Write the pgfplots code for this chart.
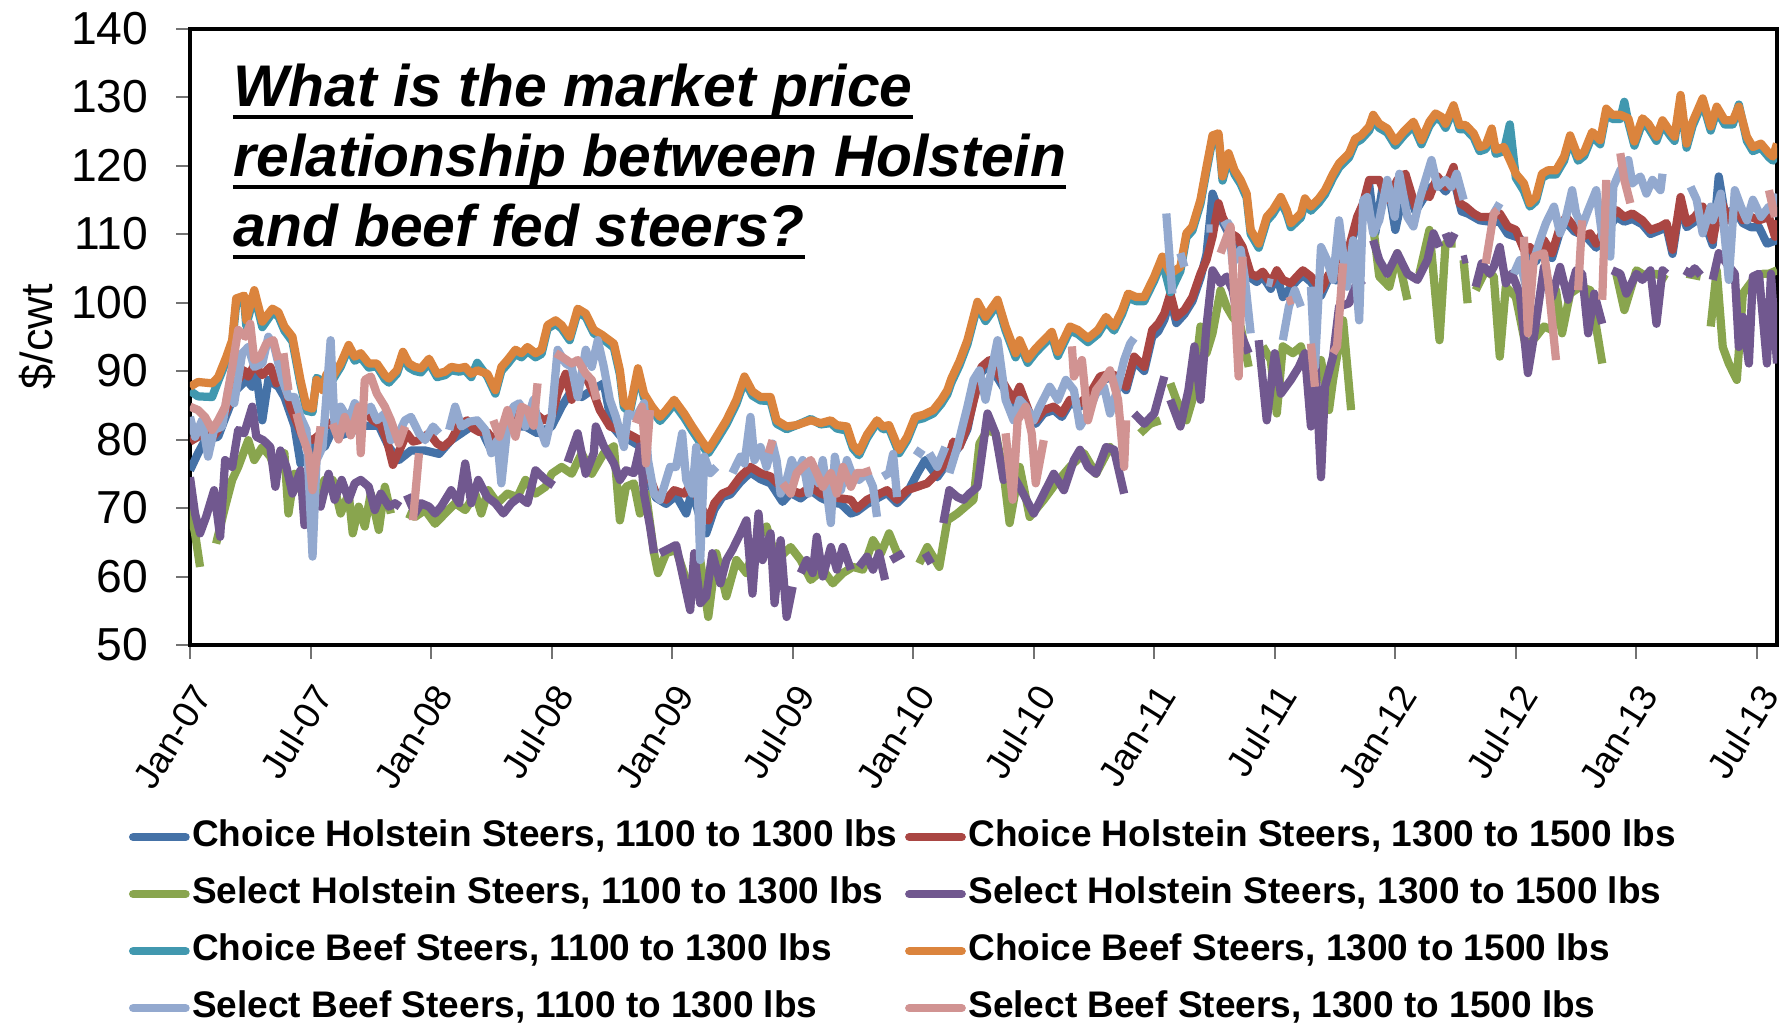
\documentclass[border=0pt]{standalone}
\usepackage{fontspec}
\setmainfont{Liberation Sans}
\usepackage{pgfplots}
\pgfplotsset{compat=1.18}
\definecolor{cB}{RGB}{69,114,167}
\definecolor{cR}{RGB}{170,70,67}
\definecolor{cG}{RGB}{137,165,78}
\definecolor{cP}{RGB}{113,88,143}
\definecolor{cT}{RGB}{65,152,175}
\definecolor{cO}{RGB}{219,132,61}
\definecolor{cLB}{RGB}{147,169,207}
\definecolor{cPK}{RGB}{209,147,146}
\tikzset{ln/.style={line width=3.3pt, line join=round}}
\begin{document}
\begin{tikzpicture}
\useasboundingbox (-76pt,-151.6pt) rectangle (637.2pt,258pt);
\begin{axis}[
  at={(0pt,0pt)}, anchor=south west, scale only axis,
  width=634.8pt, height=246.6pt,
  xmin=0, xmax=79, ymin=50, ymax=140,
  xtick={0,6,...,78},
  xticklabels={Jan-07,Jul-07,Jan-08,Jul-08,Jan-09,Jul-09,Jan-10,Jul-10,Jan-11,Jul-11,Jan-12,Jul-12,Jan-13,Jul-13},
  ytick={50,60,...,140},
  /pgf/number format/assume math mode=true,
  tick align=outside, tick pos=left,
  major tick length=5.5pt,
  tick style={line width=0.8pt, black!55},
  axis line style={line width=1.6pt, black},
  yticklabel style={font=\fontsize{18.5}{22}\selectfont, anchor=east, inner sep=0pt, xshift=-11pt},
  xticklabel style={font=\fontsize{14.8}{17}\selectfont, rotate=58, anchor=east, inner sep=0pt, yshift=-10.7pt, xshift=-7.5pt},
  ylabel={\$/cwt},
  ylabel style={font=\fontsize{18}{21}\selectfont, at={(axis description cs:-0.0961,0.5)}, anchor=center},
  unbounded coords=jump,
  no markers,
  legend columns=2,
  legend cell align=left,
  legend image code/.code={\draw[#1, line cap=round] (0pt,0pt) -- (21pt,0pt);},
  legend style={at={(0,0)}, anchor=north west, xshift=-24.6pt, yshift=-69.9pt,
    draw=none, fill=none, inner sep=0pt, row sep=9.3pt,
    font=\bfseries\fontsize{14.8}{17}\selectfont,
    nodes={inner sep=0pt, text height=10.5pt, text depth=3pt},
    /tikz/every even column/.append style={column sep=3pt},
    /tikz/every odd column/.append style={column sep=1pt}},
]
% Choice Holstein 1100-1300
\addplot[cB, ln] coordinates {(0,75.5)(0.4,78)(0.75,79.9)(1.4,80.4)(1.8,83.5)(2.3,87.2)(2.8,88.7)(3.1,87.7)(3.3,89.6)(3.6,82.8)(3.9,88.7)(4.4,87.7)(4.7,86.2)(5.2,82)(5.5,76.5)(6,78)(6.4,79.9)(6.7,78.9)(7.2,82)(7.5,80.6)(8,81.1)(8.7,82)(9.4,82)(9.9,78.9)(10.4,77)(11,78.4)(11.7,78.4)(12.4,77.9)(13,79.9)(13.5,80.9)(14,81.9)(14.5,81.4)(15,78.4)(15.5,81.4)(16.2,81.9)(16.7,81.9)(17.3,80.9)(18,81.9)(18.5,84.8)(19,87.2)(19.5,86.2)(20,87.2)(20.6,88.2)(21,82)(21.4,80.6)(21.9,79.9)(22.4,79)(22.8,74.2)(23.2,71.5)(23.7,70.6)(24.2,71.8)(24.7,69.2)(25,72.6)(25.4,68.4)(25.7,66.3)(26.1,69.8)(26.5,71.6)(26.9,72)(27.4,73.8)(27.9,75.2)(28.4,74.2)(28.9,73.6)(29.5,70.9)(29.9,72.2)(30.4,71.4)(30.9,72.6)(31.4,71.5)(31.9,70.8)(32.4,70.6)(32.9,69.2)(33.2,69.5)(33.7,70.6)(34.2,71.4)(34.7,72.2)(35.2,70.7)(35.7,72.2)(36.2,75)(36.6,77)(37.2,74.5)(37.7,76.6)(38.3,79)(38.7,81.5)(39,85.8)(39.4,89.8)(39.8,91)(40.2,89)(40.7,86.6)(41,85.2)(41.3,87.2)(41.8,83.2)(42.1,82.3)(42.5,83.8)(43,84.3)(43.4,83.3)(43.8,85.3)(44.3,84.8)(44.8,86.2)(45.3,88.6)(45.8,89)(46.2,88.7)(46.6,87.2)(47,91.5)(47.5,90)(47.9,95)(48.2,95.8)(48.5,97.5)(48.8,100.5)(49.1,97)(49.5,98.3)(49.9,100.2)(50.3,103.6)(50.6,107)(50.9,115.9)(51.2,113.5)(51.4,111.8)(51.8,109.5)(52.1,109)(52.4,107.5)(52.8,103.6)(53.1,103)(53.4,103.8)(53.8,102)(54.1,104)(54.4,100.8)(54.8,102.2)(55.1,103.2)(55.4,104)(55.8,103)(56.3,101)(56.7,103.6)(57.1,103.2)(57.4,105.5)(57.7,107.5)(58.1,111.8)(58.4,113.8)(58.7,117.2)(59,110.1)(59.4,117.4)(59.7,116)(60,110.6)(60.5,117.5)(61,113.3)(61.4,115.2)(61.7,116.6)(62.1,117.6)(62.5,116.2)(62.9,118.2)(63.3,113.3)(63.6,113)(64.2,112)(64.7,111.8)(65.2,111.8)(65.6,110)(66.2,109.4)(66.7,105.7)(67,106)(67.4,108.4)(67.8,106.5)(68.2,110.4)(68.5,111.8)(68.9,110.4)(69.5,109.6)(70,108)(70.5,110.4)(71,112.5)(71.4,111.8)(71.8,112.2)(72.3,111.4)(72.7,110)(73.2,110.6)(73.5,111)(73.8,107.1)(74.2,114.8)(74.5,111)(74.9,111.8)(75.3,112.5)(75.8,108.4)(76.1,118.4)(76.4,113)(76.9,113.6)(77.3,111.6)(77.7,111)(78.1,111)(78.5,108.6)(78.9,109)(79,110.5)};
\addlegendentry{Choice Holstein Steers, 1100 to 1300 lbs}
% Choice Holstein 1300-1500
\addplot[cR, ln] coordinates {(0,79.7)(0.4,80.4)(0.75,81.9)(1.1,80.2)(1.4,81.4)(1.8,84.3)(2.1,86.2)(2.3,88.2)(2.7,90.1)(2.9,89.2)(3.2,90.9)(3.6,89.4)(4,90.6)(4.3,88.2)(4.6,89.2)(5,84.8)(5.3,82.6)(5.6,80.4)(6.1,79.9)(6.4,80.6)(6.7,81.9)(7.1,82.6)(7.4,83.8)(7.7,83.5)(8.1,82.3)(8.4,83.1)(8.8,83.8)(9.1,82.8)(9.5,82.1)(9.8,79.9)(10.1,76.3)(10.5,78.9)(10.8,80.9)(11.1,79.7)(11.4,79.9)(11.9,80.9)(12.3,79.4)(12.6,78.9)(13,79.9)(13.4,82.1)(13.8,82.8)(14.1,81.6)(14.4,81.1)(14.8,81.1)(15.1,79.9)(15.4,81.1)(15.8,82.1)(16.1,83.3)(16.4,84.3)(16.7,83.5)(17.2,83.8)(17.6,82.8)(18,83.3)(18.3,86.7)(18.7,89.6)(19,85.8)(19.3,88.7)(19.7,89.2)(20.1,86.7)(20.4,84.3)(20.9,81.9)(21.4,81.4)(21.9,80.7)(22.4,79.9)(22.8,75.1)(23.2,72.1)(23.7,71.2)(24.1,72.6)(24.6,72.1)(25,73.6)(25.4,70.4)(25.8,68.2)(26.1,70.7)(26.5,72.1)(26.9,72.6)(27.4,74.6)(27.9,76)(28.4,75.1)(28.9,74.6)(29.4,73.1)(29.9,72.6)(30.4,72.1)(30.9,73.1)(31.4,72.1)(31.9,71.6)(32.4,71.4)(32.9,71.2)(33.2,69.9)(33.7,71.2)(34.2,71.9)(34.7,72.6)(35.2,71.2)(35.7,72.6)(36.2,73.1)(36.7,73.6)(37.2,75.1)(37.7,77)(38,79.7)(38.3,78.9)(38.7,81.9)(39.1,86.7)(39.4,90.6)(39.8,91.6)(40.2,89.7)(40.5,88.2)(40.7,87.2)(41,85.8)(41.3,87.7)(41.8,83.8)(42.1,82.8)(42.5,84.3)(43,84.8)(43.4,83.8)(43.8,85.8)(44.3,85.3)(44.8,86.7)(45.3,89.2)(45.8,89.6)(46.2,89.2)(46.6,87.7)(47,92.1)(47.5,90.6)(47.9,96)(48.2,96.9)(48.5,98.4)(48.8,101.3)(49.1,97.9)(49.5,98.9)(49.9,100.8)(50.3,104.2)(50.6,106.2)(50.9,109.6)(51.2,114.5)(51.4,112.5)(51.8,110.1)(52.1,109.6)(52.4,108.1)(52.8,104.2)(53.1,103.8)(53.4,104.5)(53.8,102.8)(54.1,104.7)(54.4,103.3)(54.8,102.8)(55.1,103.8)(55.4,104.7)(55.8,103.8)(56.3,101.8)(56.7,104.2)(57.1,103.8)(57.4,106.2)(57.7,108.1)(58.1,112.5)(58.4,114.5)(58.7,117.9)(59.2,117.9)(59.6,115)(60.1,117.9)(60.5,118.8)(61,114)(61.4,115.9)(61.7,115.4)(62.1,118.4)(62.5,116.9)(62.9,119.8)(63.2,114.5)(63.5,114)(63.9,113)(64.2,112.5)(64.7,112.5)(65.2,113)(65.6,111.1)(66,110.6)(66.4,107.7)(66.7,108.1)(67,106.7)(67.4,109.1)(67.8,107.2)(68.2,111.1)(68.5,112.5)(68.9,111.1)(69.3,109.6)(69.7,110.1)(70,108.6)(70.5,111.1)(71,113.5)(71.4,112.5)(71.8,113)(72.3,112)(72.7,110.6)(73.2,111.1)(73.5,111.6)(73.8,107.7)(74.2,115.4)(74.5,111.6)(74.9,112.5)(75.3,114)(75.8,109.1)(76.2,115)(76.6,112)(76.9,114)(77.3,112)(77.7,112.5)(78.1,112)(78.6,112.5)(78.9,109.6)(79,112)};
\addlegendentry{Choice Holstein Steers, 1300 to 1500 lbs}
% Select Holstein 1100-1300
\addplot[cG, ln] coordinates {(0,70.2)(0.25,66.3)(0.5,61.4)(0.9,nan)(1.3,64.8)(1.75,70.2)(2.1,74.1)(2.4,76)(2.9,79.9)(3.2,77)(3.6,78.9)(4,77.5)(4.3,75)(4.7,78)(4.9,69.2)(5.2,75)(5.6,72.1)(6,70.2)(6.4,72.1)(6.7,74.1)(7.1,74.1)(7.5,69.2)(7.9,72.1)(8.1,66.3)(8.4,70.2)(8.7,67.3)(9,72.1)(9.4,66.8)(9.7,73.1)(10,69.2)(10.4,nan)(10.8,69.2)(11.2,68.7)(11.7,69.7)(12.2,67.7)(12.7,69.2)(13.2,70.7)(13.7,69.7)(14.2,72.1)(14.5,69.2)(14.85,72.6)(15.3,70.7)(15.8,72.1)(16.3,71.6)(16.7,74.1)(17.2,72.1)(17.7,73.1)(18,75)(18.5,76)(19,75)(19.5,78)(20,75)(20.6,78)(21.1,79)(21.4,68.2)(21.7,73.1)(22.1,73.6)(22.4,69.2)(22.7,72.1)(23.1,63.4)(23.3,60.5)(23.7,63.4)(24.2,63.9)(24.7,59.5)(25.1,57.5)(25.4,62.4)(25.8,54.1)(26.2,63.4)(26.7,57.1)(27.2,62.4)(27.7,60.5)(28.2,65.3)(28.7,67.3)(29.2,62.4)(29.9,64.3)(30.4,62.4)(30.9,59.5)(31.5,61)(32,59)(32.5,60.5)(33,61.4)(33.5,61)(34,65.3)(34.4,63.4)(34.8,66.3)(35.2,63.4)(35.7,nan)(36.3,61.9)(36.7,64.3)(37.3,61.4)(37.7,68.2)(38.2,69.2)(38.6,70.2)(39,71.2)(39.3,79.4)(39.7,81.4)(40.1,80.9)(40.5,75.1)(40.8,67.8)(41.3,76)(41.8,68.7)(42.5,71.2)(43.1,73.6)(43.8,76)(44.5,78)(45.1,75)(45.8,78.9)(46.5,76)(46.9,nan)(47.3,80.9)(47.8,82.3)(48.3,82.8)(48.55,nan)(48.8,88.2)(49.1,85.8)(49.6,82.8)(49.9,85.8)(50.3,96.5)(50.6,92.6)(50.9,95.5)(51.3,101.8)(51.6,99.4)(51.9,97.9)(52.3,96.5)(52.7,90.6)(53,nan)(53.4,93.6)(53.8,91.6)(54.1,83.8)(54.4,93.6)(54.9,92.6)(55.3,93.6)(55.8,87.7)(56.3,91.6)(56.7,84.3)(56.9,88.7)(57.4,97.4)(57.8,84.3)(58.3,nan)(58.9,111.1)(59.2,103.8)(59.7,102.3)(60.1,107.2)(60.6,100.4)(60.9,nan)(61.2,104.2)(61.7,110.6)(62.2,94.5)(62.5,108.6)(63,108.6)(63.2,nan)(63.4,106.2)(63.6,99.9)(63.8,nan)(64,101.8)(64.5,104.7)(64.9,103.8)(65.2,92.1)(65.5,102.3)(66,100.8)(66.5,93.5)(67,95)(67.4,96.5)(67.8,96)(68,101.8)(68.3,95.5)(68.7,101.3)(69.2,102.3)(69.7,101.8)(70.3,91.1)(70.6,nan)(71,104.2)(71.4,98.9)(72,104.7)(72.5,103.8)(73,104.2)(73.5,103.3)(74,nan)(74.5,104.2)(75.2,103.8)(75.45,nan)(75.7,96.5)(76,104.7)(76.3,93.5)(76.6,91.1)(77,88.7)(77.3,101.3)(77.8,103.3)(78.3,104.2)(78.6,104.2)(79,104.7)};
\addlegendentry{Select Holstein Steers, 1100 to 1300 lbs}
% Select Holstein 1300-1500
\addplot[cP, ln] coordinates {(0,74.5)(0.25,69.2)(0.5,66.3)(0.8,68.7)(1.2,72.6)(1.5,65.8)(1.75,77)(2.1,76)(2.4,81.4)(2.7,80.9)(3.1,84.8)(3.3,80.4)(3.65,79.9)(4,78.9)(4.25,73.1)(4.5,78.4)(4.8,76)(5.1,72.1)(5.5,75.5)(5.7,67.5)(6.1,71.2)(6.5,70.2)(6.9,75)(7.2,71.2)(7.55,74.1)(7.9,71.2)(8.2,73.6)(8.5,74.1)(8.9,73.1)(9.2,69.7)(9.5,72.1)(9.9,70.2)(10.2,70.7)(10.45,70.2)(10.6,nan)(10.8,71.9)(11.2,69.2)(11.5,70.7)(11.9,70.2)(12.2,69.2)(12.5,70.2)(13,72.6)(13.4,70.7)(13.7,76.5)(14,70.7)(14.35,74.1)(14.8,71.6)(15.2,70.7)(15.6,69.2)(16,70.7)(16.4,71.6)(16.8,70.7)(17.2,75.5)(17.7,74.1)(18.1,73.3)(18.4,nan)(18.8,76.7)(19.3,80.9)(19.7,75)(20.1,78)(20.2,81.9)(20.6,79)(21.1,76.5)(21.4,74.1)(21.7,75.5)(22.1,75.1)(22.4,79)(22.6,72.1)(22.9,67.3)(23.1,63.4)(23.25,nan)(23.4,63.4)(24.2,64.6)(24.9,55.1)(25.1,63.4)(25.4,56.1)(25.7,57.1)(26,63.4)(26.4,59)(26.7,62.4)(27,63.9)(27.4,66.3)(27.7,68.2)(28,57.5)(28.3,69.2)(28.5,62.4)(28.9,66.3)(29.1,56.1)(29.4,65.3)(29.7,54.1)(30,58.5)(30.2,nan)(30.4,60.5)(30.7,62.4)(31,60.5)(31.2,65.8)(31.5,60)(31.9,64.3)(32.2,61)(32.5,64.3)(32.9,61)(33.1,nan)(33.3,61.4)(33.7,62.9)(34,61)(34.3,63.4)(34.6,59.5)(34.75,nan)(34.9,62.4)(35.5,63.4)(36,nan)(36.6,63.4)(36.9,61.9)(37.2,nan)(37.5,67.8)(37.8,72.6)(38.2,71.6)(38.5,71.2)(38.8,72.1)(39.2,73.1)(39.7,83.8)(40.1,80.9)(40.5,74.1)(40.8,75.5)(41.2,73.6)(42,69.2)(43,75)(43.5,72.6)(44,77)(44.3,78.5)(44.7,76)(45.1,75)(45.6,78.9)(46,78.5)(46.5,72.1)(46.75,nan)(47,83.8)(47.5,82.3)(48,83.8)(48.5,89.2)(48.65,nan)(48.8,85.8)(49.3,81.9)(49.7,87.2)(50,93.6)(50.3,85.8)(50.6,96.5)(50.9,104.7)(51.3,102.8)(51.6,103.8)(51.9,101.8)(52.3,95.5)(52.7,92.6)(52.95,nan)(53.2,94.5)(53.6,82.8)(54,92.6)(54.3,86.7)(54.8,88.7)(55.2,90.6)(55.5,92.6)(55.8,81.9)(56,92.6)(56.3,74.5)(56.5,87.7)(56.9,92.1)(57.2,99.4)(57.7,99.9)(58,102.3)(58.4,103.3)(58.65,nan)(58.9,109.1)(59.2,106.2)(59.6,104.2)(60.1,107.2)(60.6,104.2)(61.1,103.3)(61.6,106.2)(61.9,110.1)(62.2,108.1)(62.35,nan)(62.5,110.1)(62.7,108.6)(62.96,110.1)(63.1,nan)(63.3,106.2)(63.6,106.4)(63.8,nan)(64,102.3)(64.3,105.7)(64.7,104.2)(64.9,105.2)(65.2,108.1)(65.5,102.8)(65.8,104.2)(66.2,101.3)(66.6,89.7)(66.9,95)(67.4,105.2)(67.8,100.8)(68.2,105.2)(68.6,100.4)(69,104.7)(69.3,104.2)(69.6,95.5)(69.9,101.3)(70.3,96.9)(70.55,nan)(70.8,104.7)(71.2,104.2)(71.5,101.3)(72,104.2)(72.3,103.3)(72.7,104.7)(73,96.9)(73.3,104.7)(73.5,104.2)(74,nan)(74.4,104.7)(74.7,104.2)(74.9,105)(75.2,104)(75.5,nan)(75.8,103.3)(76.1,107.2)(76.5,105.7)(76.9,104.2)(77.1,93.5)(77.3,97.9)(77.6,91.1)(77.8,103.8)(78.1,104.2)(78.5,91.1)(78.7,104.2)(79,91.1)};
\addlegendentry{Select Holstein Steers, 1300 to 1500 lbs}
% Choice Beef 1100-1300
\addplot[cT, ln] coordinates {(0,87.1)(0.4,86.3)(1.1,86.2)(1.4,88.5)(1.8,91.4)(2.1,93.9)(2.3,99.8)(2.7,100.2)(2.8,96.6)(3.2,101.2)(3.6,96.4)(4.1,98.5)(4.4,98)(4.7,95.9)(5.1,94.3)(5.5,88.1)(5.8,84.2)(6.1,84)(6.3,89)(6.6,88.5)(6.8,89.2)(7.1,88.7)(7.5,90.6)(7.9,93.4)(8.2,91.5)(8.5,92)(8.9,90.5)(9.3,90.7)(9.7,88.8)(9.9,88.3)(10.3,89.6)(10.6,92.2)(10.9,90.5)(11.2,90)(11.5,89.8)(11.9,91.2)(12.3,89.1)(12.7,89.4)(13,90.1)(13.4,89.9)(13.7,90.1)(14,89.1)(14.3,91.2)(14.8,89.2)(15.2,86.7)(15.5,90)(15.8,91)(16.2,92.5)(16.5,92)(16.8,92.9)(17.2,92)(17.5,92.5)(17.8,96.2)(18.2,96.9)(18.5,96.2)(18.9,94.5)(19.3,98.6)(19.7,97.9)(20.1,95.5)(20.5,94.8)(21.1,93.4)(21.4,89.5)(21.6,84.7)(21.9,84)(22.3,89.8)(22.6,86.1)(23,84.2)(23.4,82.7)(23.7,83.7)(24.1,85.2)(24.6,83.2)(25,81.3)(25.5,79.1)(25.8,78)(26.2,79.8)(26.7,82.2)(27.2,85.2)(27.6,88.6)(28,86.4)(28.4,85.7)(28.9,85.6)(29.2,82.3)(29.7,81.5)(30.2,82.1)(30.9,83)(31.4,82.2)(31.9,82.4)(32.2,81.6)(32.7,81.3)(33,78.7)(33.3,77.7)(33.7,80.2)(34.2,82.5)(34.5,81.5)(34.8,81.6)(35.3,78)(35.7,79.9)(36.1,82.8)(36.5,83.1)(37,83.8)(37.4,85.2)(37.7,86.6)(37.9,88.3)(38.3,90.8)(38.7,93.9)(39.2,99.5)(39.6,97.3)(40.2,99.8)(40.6,95.9)(41.1,92)(41.3,93.9)(41.7,91.2)(42.1,92.7)(42.5,93.9)(42.9,95.1)(43.2,92.2)(43.8,95.9)(44.2,95.4)(44.7,94.2)(45.2,95.4)(45.6,97.3)(46,95.9)(46.4,98.3)(46.7,100.7)(47.1,100.2)(47.5,100.2)(48,103.2)(48.4,106.1)(48.8,101.5)(49.3,104.6)(49.6,109.5)(49.9,110.5)(50.3,114.4)(50.6,119.2)(50.9,123.8)(51.2,124.1)(51.4,117.8)(51.7,121.2)(52,118.7)(52.3,117.3)(52.6,115.3)(52.8,110)(53.2,108)(53.6,111.9)(53.9,112.9)(54.3,114.8)(54.6,112.9)(54.8,111)(55.3,112.4)(55.5,114.6)(55.8,113.4)(56.2,114.6)(56.5,115.8)(56.9,118.2)(57.2,119.7)(57.7,121.2)(58,123.3)(58.3,123.8)(58.7,125.1)(58.9,126.8)(59.2,125.5)(59.6,124.8)(60,122.9)(60.4,124.3)(60.9,125.8)(61.3,123.1)(61.7,125.8)(62,127)(62.3,126.5)(62.5,125.5)(62.9,128.2)(63.2,125.3)(63.5,125.3)(63.9,124.1)(64.2,122.1)(64.5,122.4)(64.8,124.8)(65,121.7)(65.4,122.1)(65.7,126)(66,118.2)(66.4,116.3)(66.7,114)(67,114.8)(67.3,118.2)(67.6,118.7)(68,118.7)(68.4,120.7)(68.7,123.8)(69.1,120.7)(69.4,121.4)(69.8,124.3)(70.2,123.1)(70.5,127.7)(70.8,126.8)(71.2,126.8)(71.4,129.3)(71.6,126.3)(71.9,122.9)(72.3,126.3)(72.6,125.5)(73,123.6)(73.3,126)(73.7,124.3)(73.9,123.6)(74.2,129.6)(74.5,122.6)(74.8,125.8)(75.3,129.2)(75.7,125.1)(76,128)(76.4,126)(76.8,126)(77.1,128.9)(77.5,123.6)(77.8,122.1)(78.2,122.6)(78.6,121.2)(78.8,120.7)(79,122.6)};
\addlegendentry{Choice Beef Steers, 1100 to 1300 lbs}
% Choice Beef 1300-1500
\addplot[cO, ln] coordinates {(0,87.7)(0.4,88.4)(1.1,88.2)(1.4,89.1)(1.8,92)(2.1,94.5)(2.3,100.6)(2.7,101)(2.8,97.4)(3.2,101.8)(3.6,97.2)(4.1,99.1)(4.4,98.6)(4.7,96.5)(5.1,95)(5.5,88.7)(5.8,84.8)(6.1,84.5)(6.3,88.7)(6.6,87.2)(6.8,89.6)(7.1,89.2)(7.5,91.1)(7.9,93.8)(8.2,92.1)(8.5,92.6)(8.9,91.1)(9.3,91.1)(9.7,89.4)(9.9,88.9)(10.3,90.1)(10.6,92.8)(10.9,91.1)(11.2,90.6)(11.5,90.4)(11.9,91.8)(12.3,89.6)(12.7,89.9)(13,90.6)(13.4,90.4)(13.7,90.6)(14,89.6)(14.3,90.1)(14.8,89.6)(15.2,87.2)(15.5,90.6)(15.8,91.6)(16.2,93.1)(16.5,92.6)(16.8,93.5)(17.2,92.6)(17.5,93.1)(17.8,96.7)(18.2,97.4)(18.5,96.7)(18.9,95)(19.3,99.1)(19.7,98.4)(20.1,96)(20.5,95.3)(21.1,94)(21.4,90.1)(21.6,85.3)(21.9,84.5)(22.3,90.4)(22.6,86.7)(23,84.8)(23.4,83.3)(23.7,84.3)(24.1,85.8)(24.6,83.8)(25,81.9)(25.5,79.7)(25.8,78.5)(26.2,80.4)(26.7,82.8)(27.2,85.8)(27.6,89.2)(28,87)(28.4,86.2)(28.9,86.2)(29.2,82.8)(29.7,81.9)(30.2,82.1)(30.9,82.8)(31.4,82.4)(31.9,82.8)(32.2,82.1)(32.7,81.9)(33,79.2)(33.3,78.2)(33.7,80.7)(34.2,82.8)(34.5,81.9)(34.8,82.1)(35.3,78.5)(35.7,80.4)(36.1,83.3)(36.5,83.6)(37,84.3)(37.4,85.8)(37.7,87.2)(37.9,88.9)(38.3,91.4)(38.7,94.5)(39.2,100.1)(39.6,97.9)(40.2,100.4)(40.6,96.5)(41.1,92.6)(41.3,94.5)(41.7,91.8)(42.1,93.3)(42.5,94.5)(42.9,95.7)(43.2,92.8)(43.8,96.5)(44.2,96)(44.7,94.8)(45.2,96)(45.6,97.9)(46,96.5)(46.4,98.9)(46.7,101.3)(47.1,100.8)(47.5,100.8)(48,103.8)(48.4,106.7)(48.8,104.2)(49.3,105.2)(49.6,110.1)(49.9,111.1)(50.3,115)(50.6,119.8)(50.9,124.4)(51.2,124.7)(51.4,118.4)(51.7,121.8)(52,119.3)(52.3,117.9)(52.6,115.9)(52.8,110.6)(53.2,108.6)(53.6,112.5)(53.9,113.5)(54.3,115.4)(54.6,113.5)(54.8,111.6)(55.3,113)(55.5,115.2)(55.8,114)(56.2,115.2)(56.5,116.4)(56.9,118.8)(57.2,120.3)(57.7,121.8)(58,123.9)(58.3,124.4)(58.7,125.7)(58.9,127.4)(59.2,126.1)(59.6,125.4)(60,123.5)(60.4,124.9)(60.9,126.4)(61.3,123.7)(61.7,126.4)(62,127.6)(62.3,127.1)(62.5,126.1)(62.9,128.8)(63.2,125.9)(63.5,125.9)(63.9,124.7)(64.2,122.7)(64.5,123)(64.8,125.4)(65,122.3)(65.4,122.7)(65.7,120.8)(66,118.8)(66.4,117.4)(66.7,114.5)(67,115.4)(67.3,118.8)(67.6,119.3)(68,119.3)(68.4,121.3)(68.7,124.4)(69.1,121.3)(69.4,122)(69.8,124.9)(70.2,123.7)(70.5,128.3)(70.8,127.4)(71.2,127.4)(71.6,126.9)(71.9,123.5)(72.3,126.9)(72.6,126.1)(73,124.2)(73.3,126.6)(73.7,124.9)(73.9,124.2)(74.2,130.3)(74.5,123.2)(74.8,126.4)(75.3,129.8)(75.7,125.7)(76,128.6)(76.4,126.6)(76.8,126.6)(77.1,128.6)(77.5,124.2)(77.8,122.7)(78.2,123.2)(78.6,121.8)(78.8,121.3)(79,123.2)};
\addlegendentry{Choice Beef Steers, 1300 to 1500 lbs}
% Select Beef 1100-1300
\addplot[cLB, ln] coordinates {(0,83.3)(0.25,80.4)(0.6,82.8)(0.9,77.5)(1.2,81.4)(1.6,81.9)(1.9,87.2)(2.2,85.3)(2.6,92.6)(2.9,93.5)(3.2,90.6)(3.6,91.1)(3.9,95)(4.2,93.5)(4.6,88.7)(4.9,86.2)(5.2,86.2)(5.5,83.3)(5.8,81.4)(6.1,62.9)(6.3,77)(6.6,78.9)(7,94.5)(7.2,81.9)(7.5,84.8)(7.9,82.8)(8.2,85.3)(8.6,83.8)(9,84.8)(9.3,82.8)(9.7,83.8)(10,79.9)(10.4,80.9)(10.7,82.8)(11,83.3)(11.4,80.9)(11.7,79.9)(12.1,81.9)(12.4,80.9)(12.65,nan)(12.9,81.4)(13.2,84.8)(13.5,81.9)(13.9,82.6)(14.3,82.8)(14.7,81.4)(15,78)(15.3,79.9)(15.5,73.6)(15.8,81.9)(16.1,84.8)(16.4,85.3)(16.7,81.9)(17.1,85.8)(17.3,82.8)(17.7,79.4)(18,83.3)(18.3,93.1)(18.7,91.1)(19,90.6)(19.3,86.2)(19.7,93.1)(20,90.6)(20.3,94.5)(20.6,90.6)(20.9,85.8)(21.2,83.3)(21.6,78.9)(21.8,83.8)(22.2,83.3)(22.6,85.3)(22.8,77)(23.1,72.1)(23.4,71.2)(23.9,76)(24.2,76)(24.5,80.9)(24.7,74.1)(25,72.1)(25.2,78.9)(25.4,62.4)(25.6,77.5)(25.9,75.1)(26.2,76)(26.6,nan)(27,75.1)(27.4,77.5)(27.6,76.5)(27.9,83.3)(28.1,77)(28.4,78.9)(28.7,76)(29,79.4)(29.2,77)(29.4,72.1)(29.7,74.1)(29.95,77)(30.2,75.1)(30.5,77)(30.8,72.1)(31,76)(31.3,73.6)(31.5,77)(31.9,67.8)(32.1,77.5)(32.4,72.6)(32.7,77)(33,74.6)(33.3,74.1)(33.7,75.1)(34,73.1)(34.2,68.7)(34.35,nan)(34.5,74.6)(34.8,75.1)(35,77.9)(35.2,71.6)(35.4,nan)(35.6,74.6)(35.8,nan)(36.1,78.5)(36.5,77.7)(36.65,nan)(36.8,78)(37.2,76)(37.6,78.9)(37.7,nan)(37.8,75.1)(38.2,78.9)(38.7,84.8)(39,88.7)(39.3,90.1)(39.6,85.8)(40,91.6)(40.2,94.5)(40.6,85.8)(41,82.8)(41.3,85.8)(41.6,84.8)(42,82.8)(42.3,84.8)(42.8,87.7)(43.2,85.8)(43.6,88.7)(44,87.2)(44.3,81.9)(44.7,83.8)(45.1,86.7)(45.5,87.7)(45.8,83.8)(46.1,86.7)(46.5,91.6)(46.8,94)(47,94.8)(47.8,nan)(48.6,113)(48.9,101.3)(49.1,nan)(49.3,107.2)(49.5,105.2)(50,nan)(50.6,110.8)(50.9,110.8)(51.15,nan)(51.4,111.1)(51.7,111.6)(51.9,105.7)(52.3,107.7)(52.5,103.8)(52.8,95.5)(53.2,nan)(53.6,103)(53.9,102.8)(54.15,nan)(54.4,94.5)(54.7,99.4)(55,101.8)(55.3,99.4)(55.55,nan)(55.8,102.3)(56,90.6)(56.3,108.1)(56.6,106.2)(56.9,103.3)(57.2,112)(57.6,102.3)(57.9,109.1)(58.2,97.4)(58.4,114.9)(58.6,115.4)(58.9,110.1)(59.2,112)(59.6,117.9)(59.97,112.5)(60.2,118.8)(60.6,112.5)(60.9,111.1)(61.2,115)(61.8,120.8)(62.1,116.9)(62.5,117.9)(62.8,116.9)(63.05,118.8)(63.4,115)(64,nan)(64.9,113)(65.2,114.5)(65.5,nan)(65.9,104.2)(66.2,106.2)(66.5,102.3)(66.9,106.2)(67.2,109.1)(67.5,111.6)(67.9,114)(68.2,110.1)(68.5,112.5)(68.8,116.4)(69,113)(69.3,111.1)(69.6,113.5)(70,116.4)(70.3,109.6)(70.7,106.7)(70.85,116.9)(71.2,119.3)(71.6,120.8)(71.8,117.4)(72.2,118.4)(72.5,115.9)(72.8,117.9)(73.2,116.4)(73.3,118.8)(74,nan)(74.7,116.9)(75,115)(75.3,110.1)(75.7,114)(75.8,112)(76.2,115.9)(76.6,103.3)(76.9,116.4)(77.2,114)(77.5,112)(77.8,115)(78.2,112.5)(78.6,114)(78.9,113)(79,115.9)};
\addlegendentry{Select Beef Steers, 1100 to 1300 lbs}
% Select Beef 1300-1500
\addplot[cPK, ln] coordinates {(0,84.8)(0.4,84.3)(0.75,83.3)(1.1,81.4)(1.4,82.8)(1.75,84.8)(2.1,90.6)(2.4,96)(2.75,95)(3,96.9)(3.2,91.6)(3.5,92.1)(3.8,94)(4.15,94.5)(4.4,91.6)(4.5,nan)(4.65,92.6)(4.9,87.2)(5.1,nan)(5.3,83.8)(5.55,80.9)(5.9,78)(6.1,72.6)(6.5,81.9)(6.8,nan)(7.1,82.3)(7.4,80)(7.7,83.3)(8,80.6)(8.4,84.8)(8.5,78)(8.7,88.7)(9,89.2)(9.3,86.7)(9.7,84.8)(10,82.8)(10.4,79.4)(10.7,81.9)(10.9,nan)(11.1,68.2)(11.4,78)(13,nan)(15.1,82.8)(15.4,80.4)(15.8,84.3)(16.2,80.4)(16.5,84.8)(16.8,84.3)(17.1,82)(17.3,88.2)(17.7,nan)(18.2,92.6)(18.5,92.1)(19,91.1)(19.3,91.6)(19.7,89.6)(20,88.7)(20.25,85.8)(21,nan)(22.2,82.4)(22.5,84.8)(22.7,76.5)(22.9,84.3)(25,nan)(28.8,78)(29,79.9)(29.2,nan)(29.5,73.6)(29.9,72.1)(30.2,75.1)(30.5,76)(30.9,77)(31.2,75.1)(31.5,73.1)(31.9,75.1)(32.2,72.1)(32.5,76)(32.9,73.1)(33.2,75.1)(33.5,75.1)(33.9,75.5)(36,nan)(40.6,80.9)(40.95,71.2)(41.2,82.8)(41.6,84.8)(41.9,80.9)(42.1,73.6)(42.5,79.9)(43,nan)(43.9,93.6)(44,89.2)(44.4,91.6)(44.7,82.8)(45.1,87.2)(45.5,88.7)(45.8,90.1)(46.2,85.8)(46.5,76)(46.6,82.8)(48,nan)(51.3,107.2)(51.8,111.1)(52.2,89.2)(52.4,106.7)(53,nan)(54.6,100.1)(54.9,100.4)(55.2,nan)(55.8,94)(56,87.7)(56.4,nan)(56.9,92.6)(57.1,93.6)(57.4,105.7)(60,nan)(64.5,105.7)(64.9,113)(65.1,113.5)(65.8,nan)(66.4,109.6)(66.6,95.5)(66.9,106.7)(67.4,107.2)(67.6,103.3)(68,91.6)(68.5,nan)(69.1,101.8)(69.3,112)(69.8,nan)(70.3,100.4)(70.5,117.9)(70.8,nan)(71.2,121.8)(71.4,117.9)(71.7,114.5)(75,nan)(78.6,116.4)(78.9,112.5)};
\addlegendentry{Select Beef Steers, 1300 to 1500 lbs}
\end{axis}
\begin{scope}[every node/.style={anchor=base west, inner sep=0pt, font=\bfseries\itshape\fontsize{23.5}{28}\selectfont}]
\node (t1) at (17.2pt,215.2pt) {What is the market price};
\node (t2) at (17.2pt,187.2pt) {relationship between Holstein};
\node (t3) at (17.2pt,159.2pt) {and beef fed steers?};
\end{scope}
\foreach \n in {t1,t2,t3}{\draw[line width=1.8pt] ([yshift=-4.1pt]\n.base west) -- ([yshift=-4.1pt]\n.base east);}
\end{tikzpicture}
\end{document}
